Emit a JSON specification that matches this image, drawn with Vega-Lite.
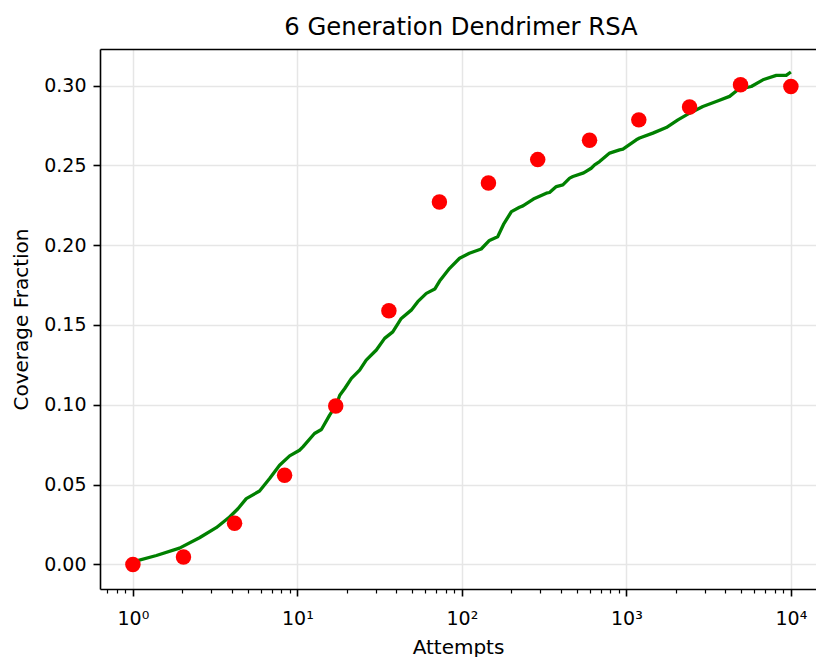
{
  "$schema": "https://vega.github.io/schema/vega-lite/v6.json",
  "width": 716,
  "height": 540,
  "autosize": {"type": "none"},
  "padding": {"left": 100, "top": 49, "right": 0, "bottom": 68},
  "background": "white",
  "title": {
    "text": "6 Generation Dendrimer RSA",
    "font": "DejaVu Sans",
    "fontSize": 24.3,
    "fontWeight": "normal",
    "color": "black",
    "anchor": "middle",
    "dx": 3,
    "offset": 9
  },
  "datasets": {
    "curve": [
      {"attempts": 1, "coverage": 0.0016},
      {"attempts": 1.39, "coverage": 0.0056},
      {"attempts": 1.92, "coverage": 0.0102},
      {"attempts": 2.54, "coverage": 0.0167},
      {"attempts": 3.21, "coverage": 0.0230},
      {"attempts": 3.87, "coverage": 0.0297},
      {"attempts": 4.35, "coverage": 0.0349},
      {"attempts": 4.89, "coverage": 0.0412},
      {"attempts": 5.89, "coverage": 0.0460},
      {"attempts": 6.78, "coverage": 0.0538},
      {"attempts": 7.79, "coverage": 0.0621},
      {"attempts": 8.97, "coverage": 0.0680},
      {"attempts": 10.3, "coverage": 0.0715},
      {"attempts": 10.8, "coverage": 0.0736},
      {"attempts": 12.7, "coverage": 0.0820},
      {"attempts": 14.0, "coverage": 0.0845},
      {"attempts": 15.7, "coverage": 0.0935},
      {"attempts": 17.2, "coverage": 0.0998},
      {"attempts": 18.1, "coverage": 0.1060},
      {"attempts": 19.4, "coverage": 0.1102},
      {"attempts": 21.3, "coverage": 0.1165},
      {"attempts": 23.9, "coverage": 0.1217},
      {"attempts": 26.2, "coverage": 0.1280},
      {"attempts": 30.2, "coverage": 0.1343},
      {"attempts": 33.9, "coverage": 0.1416},
      {"attempts": 38.0, "coverage": 0.1457},
      {"attempts": 42.8, "coverage": 0.1541},
      {"attempts": 49.2, "coverage": 0.1593},
      {"attempts": 53.9, "coverage": 0.1646},
      {"attempts": 60.8, "coverage": 0.1698},
      {"attempts": 68.4, "coverage": 0.1725},
      {"attempts": 73.2, "coverage": 0.1775},
      {"attempts": 84.2, "coverage": 0.1855},
      {"attempts": 96.8, "coverage": 0.1918},
      {"attempts": 111, "coverage": 0.1949},
      {"attempts": 131, "coverage": 0.1976},
      {"attempts": 147, "coverage": 0.2030},
      {"attempts": 165, "coverage": 0.2053},
      {"attempts": 179, "coverage": 0.2130},
      {"attempts": 200, "coverage": 0.2210},
      {"attempts": 224, "coverage": 0.2238},
      {"attempts": 235, "coverage": 0.2246},
      {"attempts": 272, "coverage": 0.2289},
      {"attempts": 326, "coverage": 0.2326},
      {"attempts": 341, "coverage": 0.2330},
      {"attempts": 375, "coverage": 0.2367},
      {"attempts": 411, "coverage": 0.2378},
      {"attempts": 452, "coverage": 0.2420},
      {"attempts": 473, "coverage": 0.2430},
      {"attempts": 550, "coverage": 0.2453},
      {"attempts": 611, "coverage": 0.2482},
      {"attempts": 641, "coverage": 0.2503},
      {"attempts": 687, "coverage": 0.2524},
      {"attempts": 791, "coverage": 0.2577},
      {"attempts": 909, "coverage": 0.2597},
      {"attempts": 953, "coverage": 0.2602},
      {"attempts": 1149, "coverage": 0.2660},
      {"attempts": 1203, "coverage": 0.2671},
      {"attempts": 1449, "coverage": 0.2702},
      {"attempts": 1748, "coverage": 0.2737},
      {"attempts": 2057, "coverage": 0.2785},
      {"attempts": 2422, "coverage": 0.2827},
      {"attempts": 2917, "coverage": 0.2869},
      {"attempts": 3517, "coverage": 0.2900},
      {"attempts": 4240, "coverage": 0.2932},
      {"attempts": 4762, "coverage": 0.2974},
      {"attempts": 5743, "coverage": 0.2994},
      {"attempts": 6761, "coverage": 0.3036},
      {"attempts": 8151, "coverage": 0.3064},
      {"attempts": 9364, "coverage": 0.3064},
      {"attempts": 10000, "coverage": 0.3085}
    ],
    "samples": [
      {"attempts": 1, "coverage": 0.0000},
      {"attempts": 2.03, "coverage": 0.0046},
      {"attempts": 4.15, "coverage": 0.0258},
      {"attempts": 8.36, "coverage": 0.0559},
      {"attempts": 17.1, "coverage": 0.0992},
      {"attempts": 36, "coverage": 0.1589},
      {"attempts": 73, "coverage": 0.2270},
      {"attempts": 145, "coverage": 0.2389},
      {"attempts": 289, "coverage": 0.2536},
      {"attempts": 597, "coverage": 0.2657},
      {"attempts": 1190, "coverage": 0.2785},
      {"attempts": 2421, "coverage": 0.2866},
      {"attempts": 4942, "coverage": 0.3005},
      {"attempts": 10000, "coverage": 0.2994}
    ]
  },
  "encoding": {
    "y": {
      "field": "coverage",
      "type": "quantitative",
      "scale": {"domain": [-0.0154, 0.3229], "nice": false, "zero": false},
      "axis": {
        "title": "Coverage Fraction",
        "values": [0, 0.05, 0.1, 0.15, 0.2, 0.25, 0.3],
        "format": ".2f",
        "grid": true,
        "gridColor": "#e6e6e6",
        "gridWidth": 1.5,
        "domainColor": "black",
        "domainWidth": 1.6,
        "tickColor": "black",
        "tickWidth": 1.6,
        "tickSize": 7,
        "labelPadding": 7,
        "labelFont": "DejaVu Sans",
        "labelFontSize": 19,
        "labelColor": "black",
        "titleFont": "DejaVu Sans",
        "titleFontSize": 20,
        "titleFontWeight": "normal",
        "titleColor": "black",
        "titlePadding": 12
      }
    }
  },
  "layer": [
    {
      "data": {"name": "curve"},
      "mark": {"type": "line", "color": "green", "strokeWidth": 3.3, "strokeJoin": "round"},
      "encoding": {
        "x": {
          "field": "attempts",
          "type": "quantitative",
          "scale": {"type": "log", "domain": [0.631, 14212], "nice": false},
          "axis": {
            "title": "Attempts",
            "orient": "bottom",
            "values": [0.7, 0.8, 0.9, 1, 2, 3, 4, 5, 6, 7, 8, 9, 10, 20, 30, 40, 50, 60, 70, 80, 90, 100, 200, 300, 400, 500, 600, 700, 800, 900, 1000, 2000, 3000, 4000, 5000, 6000, 7000, 8000, 9000, 10000],
            "labelExpr": "datum.value == 1 ? '10\u2070' : datum.value == 10 ? '10\u00b9' : datum.value == 100 ? '10\u00b2' : datum.value == 1000 ? '10\u00b3' : datum.value == 10000 ? '10\u2074' : ''",
            "labelOverlap": false,
            "labelFlush": false,
            "grid": true,
            "gridColor": "#e6e6e6",
            "gridWidth": 1.5,
            "gridOpacity": {"condition": {"test": "abs(log(datum.value)/LN10 - round(log(datum.value)/LN10)) < 0.001", "value": 1}, "value": 0},
            "domainColor": "black",
            "domainWidth": 1.6,
            "tickColor": "black",
            "tickWidth": {"condition": {"test": "abs(log(datum.value)/LN10 - round(log(datum.value)/LN10)) < 0.001", "value": 1.6}, "value": 1.2},
            "tickSize": {"condition": {"test": "abs(log(datum.value)/LN10 - round(log(datum.value)/LN10)) < 0.001", "value": 7}, "value": 4},
            "labelPadding": 13,
            "labelFont": "DejaVu Sans",
            "labelFontSize": 19,
            "labelColor": "black",
            "titleFont": "DejaVu Sans",
            "titleFontSize": 20,
            "titleFontWeight": "normal",
            "titleColor": "black",
            "titlePadding": 9
          }
        }
      }
    },
    {
      "data": {"name": "samples"},
      "mark": {"type": "point", "shape": "circle", "filled": true, "color": "red", "opacity": 1, "size": 240},
      "encoding": {
        "x": {
          "field": "attempts",
          "type": "quantitative",
          "scale": {"type": "log", "domain": [0.631, 14212], "nice": false},
          "axis": {
            "orient": "top",
            "title": null,
            "labels": false,
            "ticks": false,
            "grid": false,
            "domain": true,
            "domainColor": "black",
            "domainWidth": 1.6
          }
        }
      }
    }
  ],
  "resolve": {"axis": {"x": "independent"}},
  "config": {
    "view": {"stroke": null},
    "font": "DejaVu Sans"
  }
}
